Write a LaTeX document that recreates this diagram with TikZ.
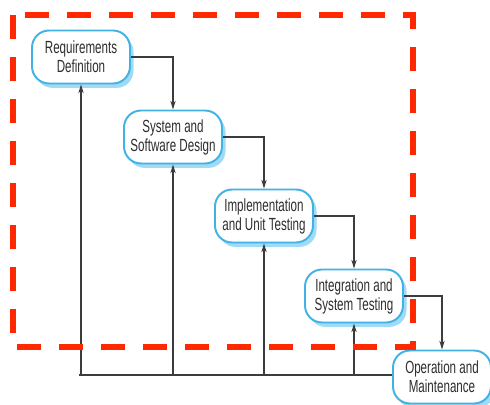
\documentclass[tikz,border=0pt]{standalone}
\usepackage{fontspec}
\setmainfont{Liberation Sans}[FakeStretch=0.66]
\usepackage{xcolor}
\usetikzlibrary{arrows.meta,shadows}
\definecolor{phaseblue}{RGB}{64,178,230}
\definecolor{phaseshadow}{RGB}{160,218,245}
\definecolor{textgray}{RGB}{45,45,45}
\definecolor{linegray}{RGB}{60,60,60}
\definecolor{framered}{RGB}{255,40,0}
\tikzset{
    phase/.style = {rectangle, rounded corners=0.34cm, minimum width=1.96cm, minimum height=1.06cm, align=center, draw=phaseblue, line width=1.1pt, fill=white, text=textgray, font=\fontsize{10}{10.8}\selectfont, drop shadow={shadow xshift=2pt, shadow yshift=-2.5pt, fill=phaseshadow, opacity=1}},
    arrow/.style = {draw=linegray, line width=0.7pt, -{Stealth[length=5pt,width=3pt]}},
    link/.style = {draw=linegray, line width=0.7pt},
    redframe/.style = {draw=framered, line width=3.2pt, dash pattern=on 0.48cm off 0.36cm}
}
\begin{document}
\begin{tikzpicture}[x=0.02cm, y=-0.02cm]
\useasboundingbox (0,0) rectangle (490,405);
\node (req) [phase] at (81,57) {Requirements\\Definition};
\node (design) [phase] at (173,137) {System and\\Software Design};
\node (impl) [phase] at (264,216) {Implementation\\and Unit Testing};
\node (integ) [phase] at (354,296) {Integration and\\System Testing};
\node (oper) [phase] at (442,377) {Operation and\\Maintenance};

\draw [arrow] (req.east) -| (design.north);
\draw [arrow] (design.east) -| (impl.north);
\draw [arrow] (impl.east) -| (integ.north);
\draw [arrow] (integ.east) -| (oper.north);

\coordinate (back) at (79,375);
\draw [link] (back) -- (back -| oper.west);
\draw [arrow] (back -| req.south) -- (req.south);
\draw [arrow] (back -| design.south) -- (design.south);
\draw [arrow] (back -| impl.south) -- (impl.south);
\draw [arrow] (back -| integ.south) -- (integ.south);

\draw [redframe] (13,15) rectangle (413,347);
\end{tikzpicture}
\end{document}
